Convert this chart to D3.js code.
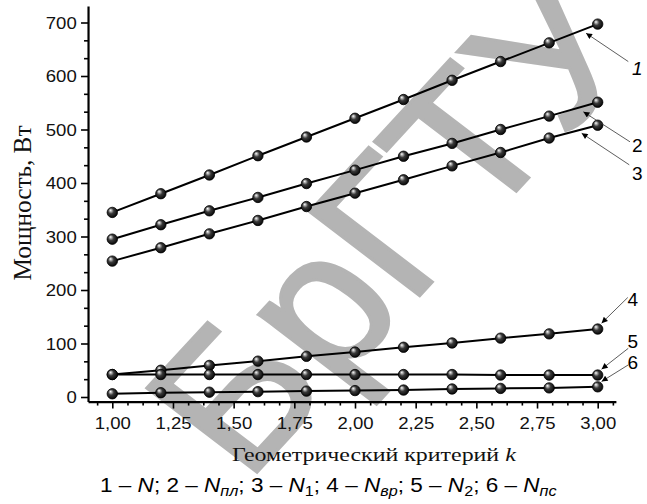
<!DOCTYPE html>
<html><head><meta charset="utf-8">
<script src="https://cdn.jsdelivr.net/npm/d3@7"></script>
<style>body{margin:0;background:#fff}svg{display:block}</style>
</head><body><svg id="c" width="647" height="504"></svg>
<script>
// ---- data ----
const kValues = [1.0, 1.2, 1.4, 1.6, 1.8, 2.0, 2.2, 2.4, 2.6, 2.8, 3.0];
const seriesN   = [345, 380, 415, 451, 486, 521, 556, 592, 627, 662, 697];
const seriesNpl = [295, 322, 348, 373, 399, 424, 450, 474, 500, 525, 551];
const seriesN1  = [254, 279, 305, 330, 356, 381, 406, 432, 457, 484, 508];
const seriesNvr = [42, 50, 59, 67, 76, 84, 93, 101, 110, 118, 127];
const seriesN2  = [42, 42, 42, 42, 42, 42, 42, 42, 41, 41, 41];
const seriesNps = [6, 8, 9, 10, 11, 12, 13, 15, 16, 17, 19];
const seriesLabels = ["1", "2", "3", "4", "5", "6"];
const xTicks = [1.0, 1.25, 1.5, 1.75, 2.0, 2.25, 2.5, 2.75, 3.0];
const yTicks = [0, 100, 200, 300, 400, 500, 600, 700];
// annotation arrows (data space): tip and tail, label anchor
const annTipK  = [2.952, 2.941, 2.934, 3.016, 3.016, 3.016];
const annTipV  = [680, 533, 493, 138, 52, 29];
const annTailK = [3.126, 3.133, 3.130, 3.124, 3.126, 3.126];
const annTailV = [627, 477, 434, 186, 91, 60];
const annLabK  = [3.163, 3.163, 3.163, 3.145, 3.145, 3.145];
const annLabV  = [602, 458, 406, 170, 92, 52];
const annItalic = [true, false, false, false, false, false];

const allSeries = [seriesN, seriesNpl, seriesN1, seriesNvr, seriesN2, seriesNps];

const svg = d3.select("#c");
const x = d3.scaleLinear().domain([1, 3]).range([112.3, 597.7]);
const y = d3.scaleLinear().domain([0, 700]).range([397, 22.5]);
const X0 = x(0.9), X1 = x(3.075);
const Y0 = y(-8.5), Y1 = y(731);

// ---- watermark ----
svg.append("text")
  .attr("transform", "translate(246,484) scale(1.1,1) rotate(-50)")
  .attr("font-family", "Liberation Sans, Arial, sans-serif")
  .attr("font-size", 190)
  .attr("fill", "#b4b4b4").attr("stroke", "#b4b4b4").attr("stroke-width", 3)
  .text("БрГТУ");

const defs = svg.append("defs");
const grad = defs.append("radialGradient").attr("id", "ball")
  .attr("cx", "45%").attr("cy", "45%").attr("r", "60%").attr("fx", "32%").attr("fy", "28%");
grad.append("stop").attr("offset", "0%").attr("stop-color", "#ffffff");
grad.append("stop").attr("offset", "18%").attr("stop-color", "#b0b0b0");
grad.append("stop").attr("offset", "45%").attr("stop-color", "#3a3a3a");
grad.append("stop").attr("offset", "100%").attr("stop-color", "#000");
defs.append("marker").attr("id", "arr").attr("viewBox", "0 0 10 10")
  .attr("refX", 10).attr("refY", 5).attr("markerWidth", 9).attr("markerHeight", 6)
  .attr("markerUnits", "userSpaceOnUse").attr("orient", "auto")
  .append("path").attr("d", "M0,0 L10,5 L0,10 Z").attr("fill", "#000");

// ---- axes ----
const fmt = d => d3.format(".2f")(d).replace(".", ",");
const xA = x.copy().domain([0.9, 3.075]).range([X0, X1]);
const yA = y.copy().domain([-8.5, 731]).range([Y0, Y1]);
const xMinor = d3.range(0, 36).map(i => 0.9375 + i * 0.0625).filter(v => v <= 3.07 && Math.abs(v * 4 - Math.round(v * 4)) > 1e-6);
const yMinor = d3.range(-1, 22).map(i => i * 100 / 3).filter(v => v >= 0 && v <= 730 && Math.abs(v / 100 - Math.round(v / 100)) > 1e-6);

const gxm = svg.append("g").attr("transform", `translate(0,${Y0})`)
  .call(d3.axisBottom(xA).tickValues(xMinor).tickSize(4).tickFormat("").tickSizeOuter(0));
gxm.select(".domain").remove();
const gx = svg.append("g").attr("transform", `translate(0,${Y0})`)
  .call(d3.axisBottom(xA).tickValues(xTicks).tickSize(7).tickFormat(fmt).tickSizeOuter(0));
const gym = svg.append("g").attr("transform", `translate(${X0},0)`)
  .call(d3.axisLeft(yA).tickValues(yMinor).tickSize(4).tickFormat("").tickSizeOuter(0));
gym.select(".domain").remove();
const gy = svg.append("g").attr("transform", `translate(${X0},0)`)
  .call(d3.axisLeft(yA).tickValues(yTicks).tickSize(7).tickFormat(d => d).tickSizeOuter(0));

svg.selectAll(".domain").attr("stroke", "#000").attr("stroke-width", 2.2);
svg.selectAll(".tick line").attr("stroke", "#000").attr("stroke-width", 1.6);
gx.selectAll(".tick text").attr("y", 0).attr("dy", 0)
  .attr("transform", "translate(0,27.3) scale(1.16,1)")
  .attr("font-family", "Liberation Sans, Arial, sans-serif").attr("font-size", 16).attr("fill", "#111");
gy.selectAll(".tick text").attr("x", 0).attr("dy", 0)
  .attr("transform", "translate(-11.3,5.7) scale(1.16,1)")
  .attr("font-family", "Liberation Sans, Arial, sans-serif").attr("font-size", 16).attr("fill", "#111");

// ---- titles ----
function stretch(sel, tx, ty, width, sy, rot) {
  const w = sel.node().getComputedTextLength();
  sel.attr("transform", `translate(${tx},${ty})${rot ? " rotate(" + rot + ")" : ""} scale(${width / w},${sy})`);
}
const yt = svg.append("text").attr("font-family", "Liberation Serif, Times New Roman, serif")
  .attr("font-size", 21).attr("fill", "#111").attr("text-anchor", "middle").text("Мощность, Вт");
stretch(yt, 30.5, 203, 155, 1.15, -90);

const xt = svg.append("text").attr("font-family", "Liberation Serif, Times New Roman, serif")
  .attr("font-size", 19).attr("fill", "#111");
xt.append("tspan").text("Геометрический критерий ");
xt.append("tspan").attr("font-style", "italic").text("k");
stretch(xt, 232, 460.5, 284, 1, 0);

const cap = svg.append("text").attr("font-family", "Liberation Sans, Arial, sans-serif")
  .attr("font-size", 19.5).attr("fill", "#000");
const capParts = [["1 – ", 0, 0], ["N", 1, 0], ["; 2 – ", 0, 0], ["N", 1, 0], ["пл", 1, 1], ["; 3 – ", 0, 0],
  ["N", 1, 0], ["1", 0, 1], ["; 4 – ", 0, 0], ["N", 1, 0], ["вр", 1, 1], ["; 5 – ", 0, 0], ["N", 1, 0], ["2", 0, 1],
  ["; 6 – ", 0, 0], ["N", 1, 0], ["пс", 1, 1]];
let sub = false;
capParts.forEach(([t, it, s]) => {
  const ts = cap.append("tspan").text(t);
  if (it) ts.attr("font-style", "italic");
  if (s) { ts.attr("font-size", 14).attr("dy", sub ? 0 : 4); sub = true; }
  else if (sub) { ts.attr("dy", -4); sub = false; }
});
stretch(cap, 100, 491.5, 457, 1.02, 0);

// ---- series ----
const line = d3.line().x(d => x(d[0])).y(d => y(d[1]));
allSeries.forEach(s => {
  const pts = kValues.map((k, i) => [k, s[i]]);
  svg.append("path").datum(pts).attr("d", line).attr("fill", "none")
    .attr("stroke", "#000").attr("stroke-width", 2);
});
allSeries.forEach(s => {
  svg.append("g").selectAll("circle").data(kValues.map((k, i) => [k, s[i]])).join("circle")
    .attr("cx", d => x(d[0])).attr("cy", d => y(d[1])).attr("r", 5.2)
    .attr("fill", "url(#ball)").attr("stroke", "#000").attr("stroke-width", 0.8);
});

// ---- annotations ----
seriesLabels.forEach((lab, i) => {
  svg.append("line").attr("x1", x(annTailK[i])).attr("y1", y(annTailV[i]))
    .attr("x2", x(annTipK[i])).attr("y2", y(annTipV[i]))
    .attr("stroke", "#333").attr("stroke-width", 0.8).attr("marker-end", "url(#arr)");
  const t = svg.append("text").attr("x", x(annLabK[i])).attr("y", y(annLabV[i]))
    .attr("text-anchor", "middle").attr("font-family", "Liberation Sans, Arial, sans-serif")
    .attr("font-size", 19).attr("fill", "#000").text(lab);
  if (annItalic[i]) t.attr("font-style", "italic");
});
</script></body></html>
